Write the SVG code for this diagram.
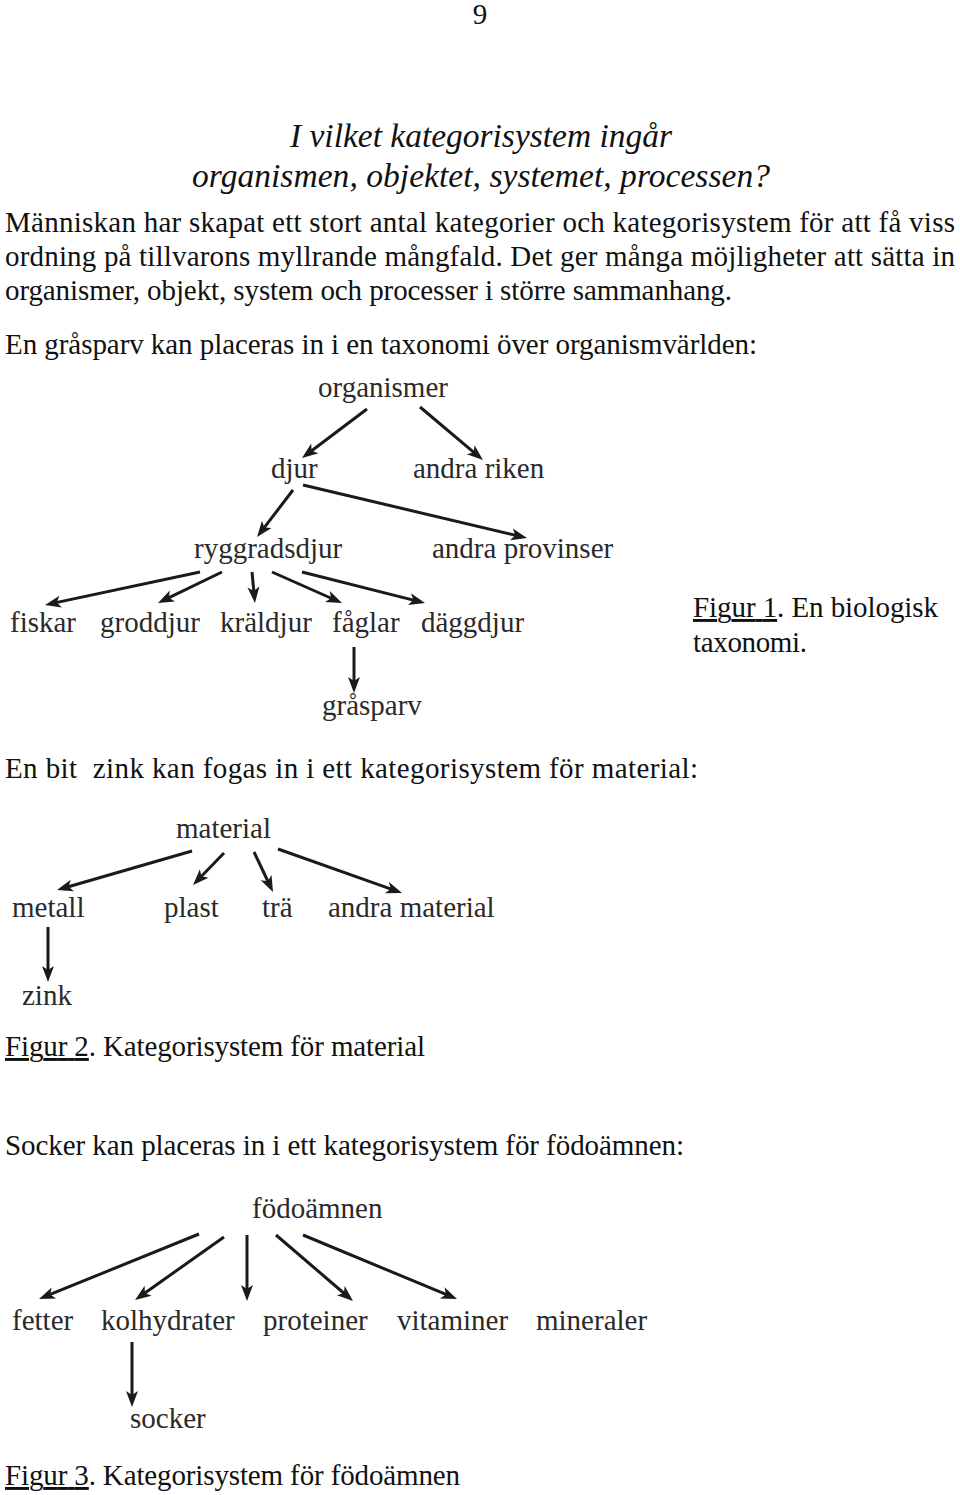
<svg xmlns="http://www.w3.org/2000/svg" width="960" height="1495" viewBox="0 0 960 1495">
<style>
.body{font-family:"Liberation Serif","Times New Roman",serif;font-size:29px;fill:#111}
.title{font-family:"Liberation Serif","Times New Roman",serif;font-size:33.5px;font-style:italic;fill:#111}
.lbl{font-family:"Liberation Serif","Times New Roman",serif;font-size:29px;fill:#2a2a2a}
.u{text-decoration:underline}
.arr line{stroke:#1a1a1a;stroke-width:3;marker-end:url(#ah)}
</style>
<defs>
<marker id="ah" markerUnits="userSpaceOnUse" markerWidth="16" markerHeight="12" refX="6" refY="6" orient="auto" overflow="visible">
<path d="M0,0 L16,6 L0,12 L4,6 Z" fill="#1a1a1a"/>
</marker>
</defs>
<rect width="960" height="1495" fill="#fff"/>

<text class="body" x="480" y="24" text-anchor="middle">9</text>
<text class="title" x="481" y="147" text-anchor="middle" textLength="382">I vilket kategorisystem ingår</text>
<text class="title" x="481" y="187" text-anchor="middle" textLength="578">organismen, objektet, systemet, processen?</text>

<text class="body" x="5" y="232" textLength="950">Människan har skapat ett stort antal kategorier och kategorisystem för att få viss</text>
<text class="body" x="5" y="266" textLength="950">ordning på tillvarons myllrande mångfald. Det ger många möjligheter att sätta in</text>
<text class="body" x="5" y="300" textLength="727">organismer, objekt, system och processer i större sammanhang.</text>
<text class="body" x="5" y="354" textLength="752">En gråsparv kan placeras in i en taxonomi över organismvärlden:</text>

<g id="fig1">
<g id="n-organismer"><text class="lbl" x="318" y="397">organismer</text></g>
<g id="n-djur"><text class="lbl" x="271" y="478">djur</text></g>
<g id="n-andra-riken"><text class="lbl" x="413" y="478">andra riken</text></g>
<g id="n-ryggradsdjur"><text class="lbl" x="194" y="558">ryggradsdjur</text></g>
<g id="n-andra-provinser"><text class="lbl" x="432" y="558">andra provinser</text></g>
<g id="n-fiskar"><text class="lbl" x="10" y="632">fiskar</text></g>
<g id="n-groddjur"><text class="lbl" x="100" y="632">groddjur</text></g>
<g id="n-kraldjur"><text class="lbl" x="220" y="632">kräldjur</text></g>
<g id="n-faglar"><text class="lbl" x="332" y="632">fåglar</text></g>
<g id="n-daggdjur"><text class="lbl" x="421" y="632">däggdjur</text></g>
<g id="n-grasparv"><text class="lbl" x="322" y="715">gråsparv</text></g>
</g>
<text class="body" x="693" y="617" textLength="245"><tspan class="u">Figur 1</tspan>. En biologisk</text>
<text class="body" x="693" y="652" textLength="114">taxonomi.</text>

<text class="body" x="5" y="778" textLength="693" xml:space="preserve">En bit  zink kan fogas in i ett kategorisystem för material:</text>

<g id="fig2">
<g id="n-material"><text class="lbl" x="176" y="838">material</text></g>
<g id="n-metall"><text class="lbl" x="12" y="917">metall</text></g>
<g id="n-plast"><text class="lbl" x="164" y="917">plast</text></g>
<g id="n-tra"><text class="lbl" x="262" y="917">trä</text></g>
<g id="n-andra-material"><text class="lbl" x="328" y="917">andra material</text></g>
<g id="n-zink"><text class="lbl" x="22" y="1005">zink</text></g>
</g>
<text class="body" x="5" y="1056" textLength="420"><tspan class="u">Figur 2</tspan>. Kategorisystem för material</text>

<text class="body" x="5" y="1155" textLength="679">Socker kan placeras in i ett kategorisystem för födoämnen:</text>

<g id="fig3">
<g id="n-fodoamnen"><text class="lbl" x="252" y="1218">födoämnen</text></g>
<g id="n-fetter"><text class="lbl" x="12" y="1330">fetter</text></g>
<g id="n-kolhydrater"><text class="lbl" x="101" y="1330">kolhydrater</text></g>
<g id="n-proteiner"><text class="lbl" x="263" y="1330">proteiner</text></g>
<g id="n-vitaminer"><text class="lbl" x="397" y="1330">vitaminer</text></g>
<g id="n-mineraler"><text class="lbl" x="536" y="1330">mineraler</text></g>
<g id="n-socker"><text class="lbl" x="130" y="1428">socker</text></g>
</g>
<text class="body" x="5" y="1485" textLength="455"><tspan class="u">Figur 3</tspan>. Kategorisystem för födoämnen</text>

<g id="connectors" class="arr">
<line x1="367" y1="409" x2="310" y2="452"/>
<line x1="420" y1="407" x2="475.3" y2="453.6"/>
<line x1="293" y1="490" x2="263.1" y2="529.1"/>
<line x1="303" y1="485" x2="517.3" y2="535.7"/>
<line x1="200" y1="572" x2="54.8" y2="602.9"/>
<line x1="222" y1="572" x2="167" y2="598.6"/>
<line x1="252" y1="572" x2="254" y2="593"/>
<line x1="272" y1="572" x2="332.9" y2="599"/>
<line x1="302" y1="572" x2="415.3" y2="600.6"/>
<line x1="354" y1="647" x2="354" y2="683"/>
<line x1="192" y1="851" x2="66.6" y2="887.2"/>
<line x1="224" y1="853" x2="200" y2="877.8"/>
<line x1="254" y1="852" x2="268.7" y2="883"/>
<line x1="278" y1="849" x2="392.6" y2="889.7"/>
<line x1="48" y1="927" x2="48" y2="972"/>
<line x1="199" y1="1234" x2="48.3" y2="1295.2"/>
<line x1="224" y1="1237" x2="143.2" y2="1294.2"/>
<line x1="247" y1="1235" x2="247" y2="1291"/>
<line x1="276" y1="1235" x2="345.4" y2="1294.5"/>
<line x1="303" y1="1235" x2="447.8" y2="1295.2"/>
<line x1="132" y1="1342" x2="132" y2="1397"/>
</g>
</svg>
